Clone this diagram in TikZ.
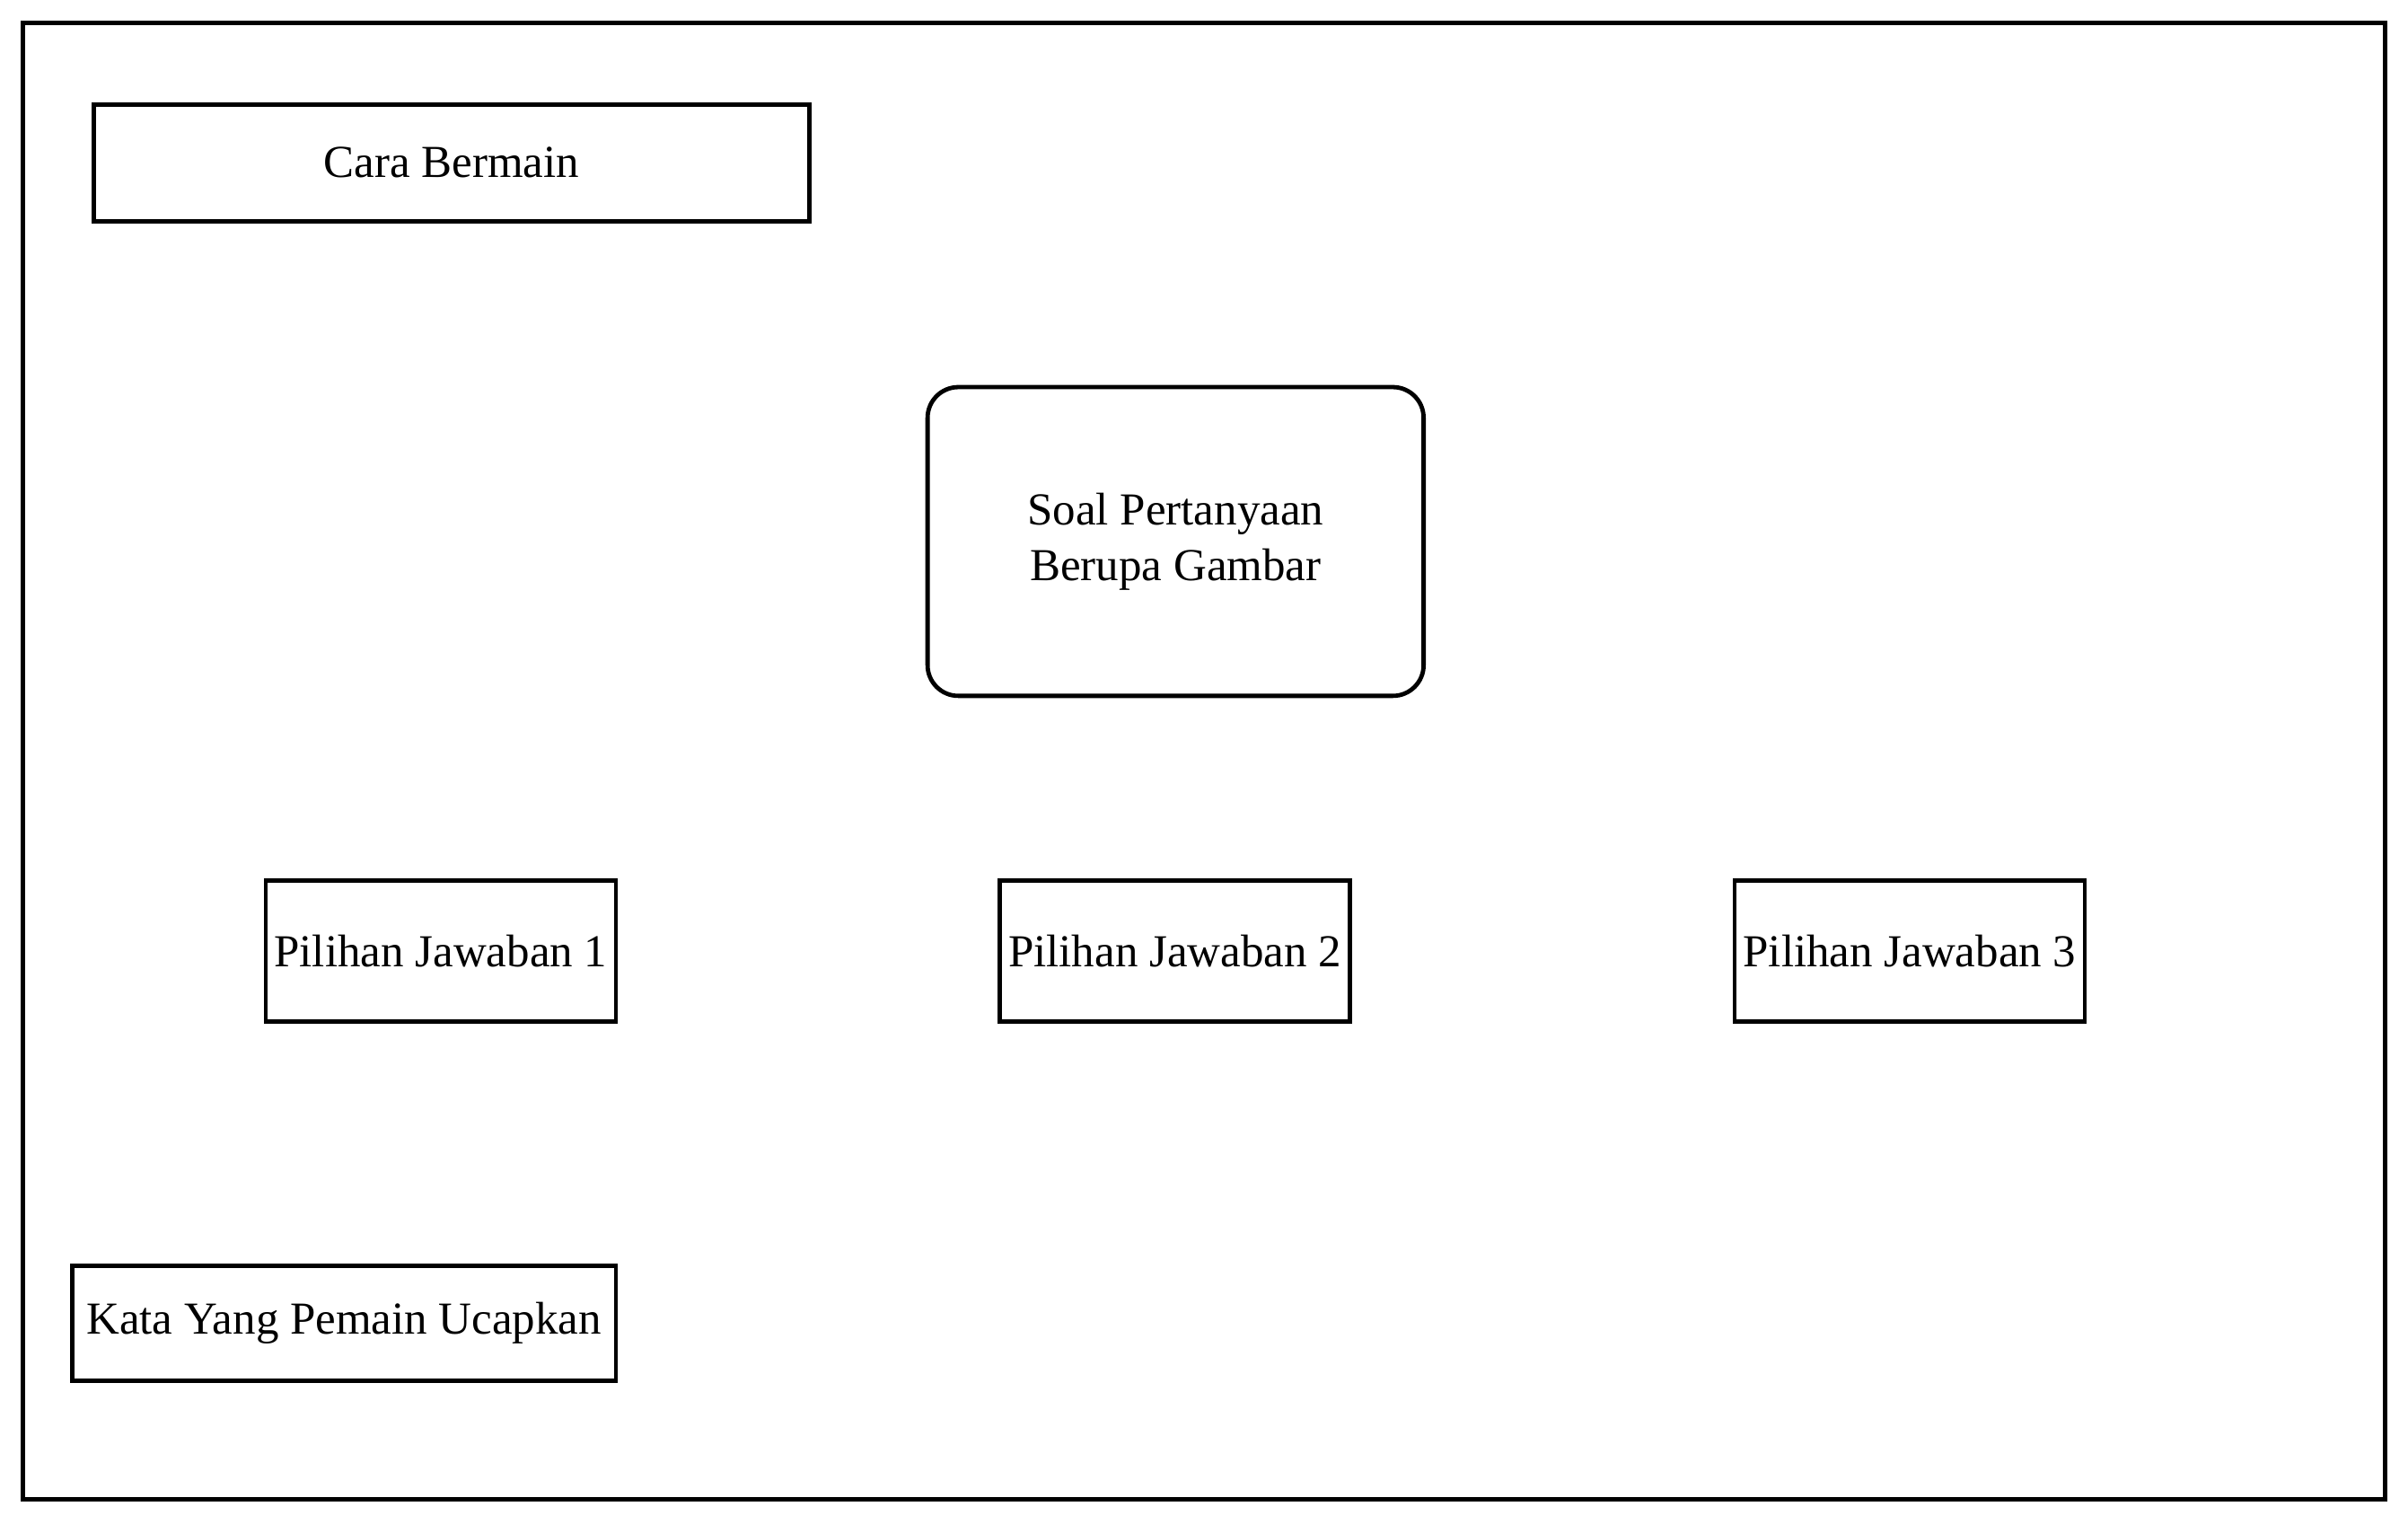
\documentclass[tikz,border=0pt]{standalone}
\usepackage{fontspec}
\setmainfont{Liberation Serif}
\usepackage{tikz}
\usetikzlibrary{positioning}

\begin{document}
\begin{tikzpicture}[
  x=0.5pt, y=-0.5pt,
  every node/.style={draw, line width=1.4pt, inner sep=1pt, font=\fontsize{14.9}{18}\selectfont},
  kotak/.style={rectangle},
  soal/.style={rectangle, rounded corners=10pt, align=center},
  pilihan/.style={rectangle, minimum width=114pt, minimum height=46pt}
]
\useasboundingbox (0,0) rectangle (1568,992);

% --- bingkai layar ---
\draw[line width=1.4pt] (15,15) rectangle (1553,976);

% --- judul ---
\node[kotak, minimum width=233pt, minimum height=38pt] (cara) at (294,106) {Cara Bermain};

% --- soal ---
\node[soal, minimum width=161.5pt, minimum height=100.5pt] (soal) at (765.5,352.5) {Soal Pertanyaan\\Berupa Gambar};

% --- pilihan jawaban ---
\node[pilihan] (pj1) at (287,619) {Pilihan Jawaban 1};
\node[pilihan] (pj2) at (765,619) {Pilihan Jawaban 2};
\node[pilihan] (pj3) at (1243.5,619) {Pilihan Jawaban 3};

% --- ucapan pemain ---
\node[kotak, minimum width=177pt, minimum height=37.5pt] (kata) at (224,861.5) {Kata Yang Pemain Ucapkan};

\end{tikzpicture}
\end{document}
